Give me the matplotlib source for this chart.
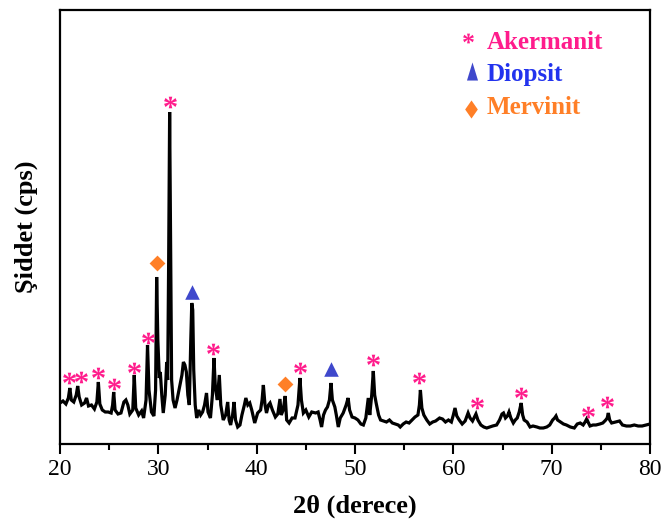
import matplotlib
matplotlib.use("Agg")
import matplotlib.pyplot as plt
from matplotlib.ticker import MultipleLocator

plt.rcParams['font.family'] = ['Liberation Serif', 'DejaVu Serif']
plt.rcParams['mathtext.fontset'] = 'custom'
plt.rcParams['mathtext.rm'] = 'Liberation Serif'
plt.rcParams['mathtext.bf'] = 'Liberation Serif:bold'

# XRD pattern (arbitrary counts)
two_theta = [
    20.0, 20.3, 20.6, 20.85, 21.0, 21.15, 21.4, 21.65, 21.8, 21.95,
    22.2, 22.5, 22.7, 22.9, 23.2, 23.5, 23.75, 23.9, 24.05, 24.3,
    24.6, 24.9, 25.2, 25.35, 25.46, 25.6, 25.9, 26.2, 26.5, 26.7,
    26.9, 27.1, 27.4, 27.55, 27.7, 28.0, 28.3, 28.5, 28.75, 28.9,
    29.05, 29.3, 29.55, 29.72, 29.83, 29.95, 30.1, 30.2, 30.35, 30.5,
    30.7, 30.85, 30.95, 31.05, 31.15, 31.25, 31.35, 31.5, 31.7, 31.9,
    32.1, 32.25, 32.4, 32.55, 32.7, 32.85, 33.0, 33.15, 33.3, 33.4,
    33.5, 33.6, 33.75, 33.9, 34.1, 34.3, 34.5, 34.7, 34.9, 35.05,
    35.3, 35.5, 35.66, 35.8, 36.0, 36.2, 36.35, 36.6, 36.85, 37.05,
    37.2, 37.35, 37.55, 37.7, 37.85, 38.07, 38.3, 38.5, 38.75, 38.9,
    39.1, 39.3, 39.5, 39.8, 40.1, 40.4, 40.55, 40.68, 40.85, 41.0,
    41.2, 41.36, 41.6, 41.9, 42.15, 42.37, 42.5, 42.7, 42.9, 43.05,
    43.3, 43.6, 43.9, 44.2, 44.4, 44.55, 44.75, 45.0, 45.3, 45.6,
    46.0, 46.25, 46.45, 46.6, 46.8, 47.0, 47.2, 47.4, 47.56, 47.7,
    47.95, 48.1, 48.3, 48.5, 48.8, 49.1, 49.3, 49.45, 49.7, 50.0,
    50.3, 50.6, 50.85, 51.1, 51.35, 51.5, 51.7, 51.86, 52.0, 52.15,
    52.4, 52.6, 52.9, 53.2, 53.5, 53.8, 54.1, 54.4, 54.6, 54.9,
    55.2, 55.5, 55.8, 56.1, 56.4, 56.55, 56.65, 56.8, 57.0, 57.3,
    57.6, 57.9, 58.2, 58.6, 58.9, 59.2, 59.5, 59.8, 60.0, 60.17,
    60.35, 60.6, 60.9, 61.2, 61.5, 61.7, 61.95, 62.3, 62.5, 62.8,
    63.1, 63.4, 63.7, 64.0, 64.4, 64.7, 64.95, 65.1, 65.3, 65.5,
    65.66, 65.85, 66.1, 66.3, 66.5, 66.7, 66.9, 67.05, 67.2, 67.5,
    67.8, 68.1, 68.5, 68.8, 69.15, 69.5, 69.8, 70.1, 70.3, 70.44,
    70.6, 70.9, 71.2, 71.5, 71.9, 72.3, 72.6, 72.9, 73.2, 73.4,
    73.56, 73.7, 73.9, 74.2, 74.5, 74.9, 75.2, 75.5, 75.65, 75.76,
    75.9, 76.1, 76.5, 76.9, 77.2, 77.6, 78.0, 78.4, 78.8, 79.2,
    79.6, 80.0,
]
intensity = [
    41, 43, 40, 46, 56, 44, 42, 49, 58, 47,
    39, 41, 46, 38, 39, 35, 42, 62, 40, 34,
    32, 32, 31, 39, 52, 34, 30, 31, 42, 44,
    39, 30, 34, 69, 36, 29, 33, 26, 44, 99,
    54, 32, 28, 54, 167, 104, 66, 72, 49, 31,
    49, 82, 64, 184, 332, 194, 64, 44, 36, 44,
    54, 61, 69, 82, 79, 72, 49, 39, 104, 141,
    134, 74, 39, 26, 34, 29, 32, 39, 51, 32,
    26, 49, 86, 56, 44, 69, 39, 24, 29, 42,
    24, 19, 29, 42, 24, 17, 19, 29, 39, 46,
    39, 41, 34, 21, 31, 34, 44, 59, 39, 31,
    39, 41, 34, 27, 30, 45, 29, 34, 48, 24,
    21, 26, 26, 39, 66, 44, 31, 34, 27, 32,
    31, 32, 24, 17, 29, 34, 37, 44, 61, 44,
    37, 29, 17, 26, 31, 39, 46, 34, 27, 26,
    24, 20, 19, 26, 46, 29, 49, 73, 49, 41,
    29, 24, 23, 22, 24, 21, 20, 19, 17, 20,
    22, 21, 24, 27, 29, 39, 54, 36, 29, 24,
    20, 22, 23, 26, 25, 22, 24, 22, 29, 36,
    28, 24, 20, 23, 31, 26, 23, 30, 24, 19,
    17, 16, 17, 18, 19, 24, 30, 31, 26, 28,
    32, 26, 21, 24, 26, 32, 41, 29, 24, 22,
    17, 18, 17, 16, 16, 17, 19, 24, 26, 28,
    24, 22, 20, 19, 17, 16, 20, 21, 19, 22,
    25, 22, 18, 19, 19, 20, 21, 24, 26, 31,
    24, 21, 22, 23, 19, 18, 18, 19, 18, 18,
    19, 20,
]

# phase markers (position, height of marker)
akermanit_x = [20.92, 22.14, 23.86, 25.49, 27.53, 28.95, 31.19, 35.56,
               44.41, 51.83, 56.51, 62.41, 66.88, 73.7, 75.63]
akermanit_y = [66, 67, 71, 60, 76, 106, 342, 95, 76, 84, 66, 41, 51, 32, 42]
diopsit_x = [33.46, 47.56]
diopsit_y = [152, 75]
mervinit_x = [29.83, 42.88]
mervinit_y = [181, 60]

pink = '#FF1C8C'
blue = '#3F48CC'
orange = '#FF7F27'

tall_tri = [(-0.55, -0.9), (0.55, -0.9), (0, 0.9)]
tall_dia = [(0, -1), (0.7, 0), (0, 1), (-0.7, 0)]

fig = plt.figure(figsize=(6.64, 5.25), dpi=100)
ax = fig.add_axes([60 / 664, 1 - 444 / 525, 590 / 664, 434 / 525])

ax.plot(two_theta, intensity, color='black', lw=2.3, solid_joinstyle='miter')
ax.scatter(akermanit_x, akermanit_y, marker=r'$\mathbf{*}$', s=85,
           color=pink, linewidths=0, zorder=3)
ax.scatter(diopsit_x, diopsit_y, marker='^', s=110, color=blue,
           linewidths=0, zorder=3)
ax.scatter(mervinit_x, mervinit_y, marker='D', s=65, color=orange,
           linewidths=0, zorder=3)

# legend drawn as text
ax.scatter([61.5], [406], marker=r'$\mathbf{*}$', s=60, color=pink,
           linewidths=0)
ax.scatter([61.9], [373], marker=tall_tri, s=170, color=blue, linewidths=0)
ax.scatter([61.8], [335], marker=tall_dia, s=170, color=orange, linewidths=0)
ax.text(63.4, 395, 'Akermanit', color=pink, fontsize=18, fontweight='bold',
        va='baseline')
ax.text(63.4, 363, 'Diopsit', color='#2233EE', fontsize=18,
        fontweight='bold', va='baseline')
ax.text(63.4, 330, 'Mervinit', color=orange, fontsize=18, fontweight='bold',
        va='baseline')

ax.set_xlim(20, 80)
ax.set_ylim(0, 434)
ax.xaxis.set_major_locator(MultipleLocator(10))
ax.xaxis.set_minor_locator(MultipleLocator(5))
ax.tick_params(axis='x', which='major', direction='out', length=7, width=1.5,
               labelsize=17, pad=4)
ax.tick_params(axis='x', which='minor', direction='out', length=4, width=1.5)
ax.set_yticks([])
for s in ax.spines.values():
    s.set_linewidth(1.6)

ax.set_xlabel('2θ (derece)', fontsize=19, fontweight='bold', labelpad=10)
ax.set_ylabel('Şiddet (cps)', fontsize=19, fontweight='bold', labelpad=16)

fig.savefig('out.png', dpi=100)
